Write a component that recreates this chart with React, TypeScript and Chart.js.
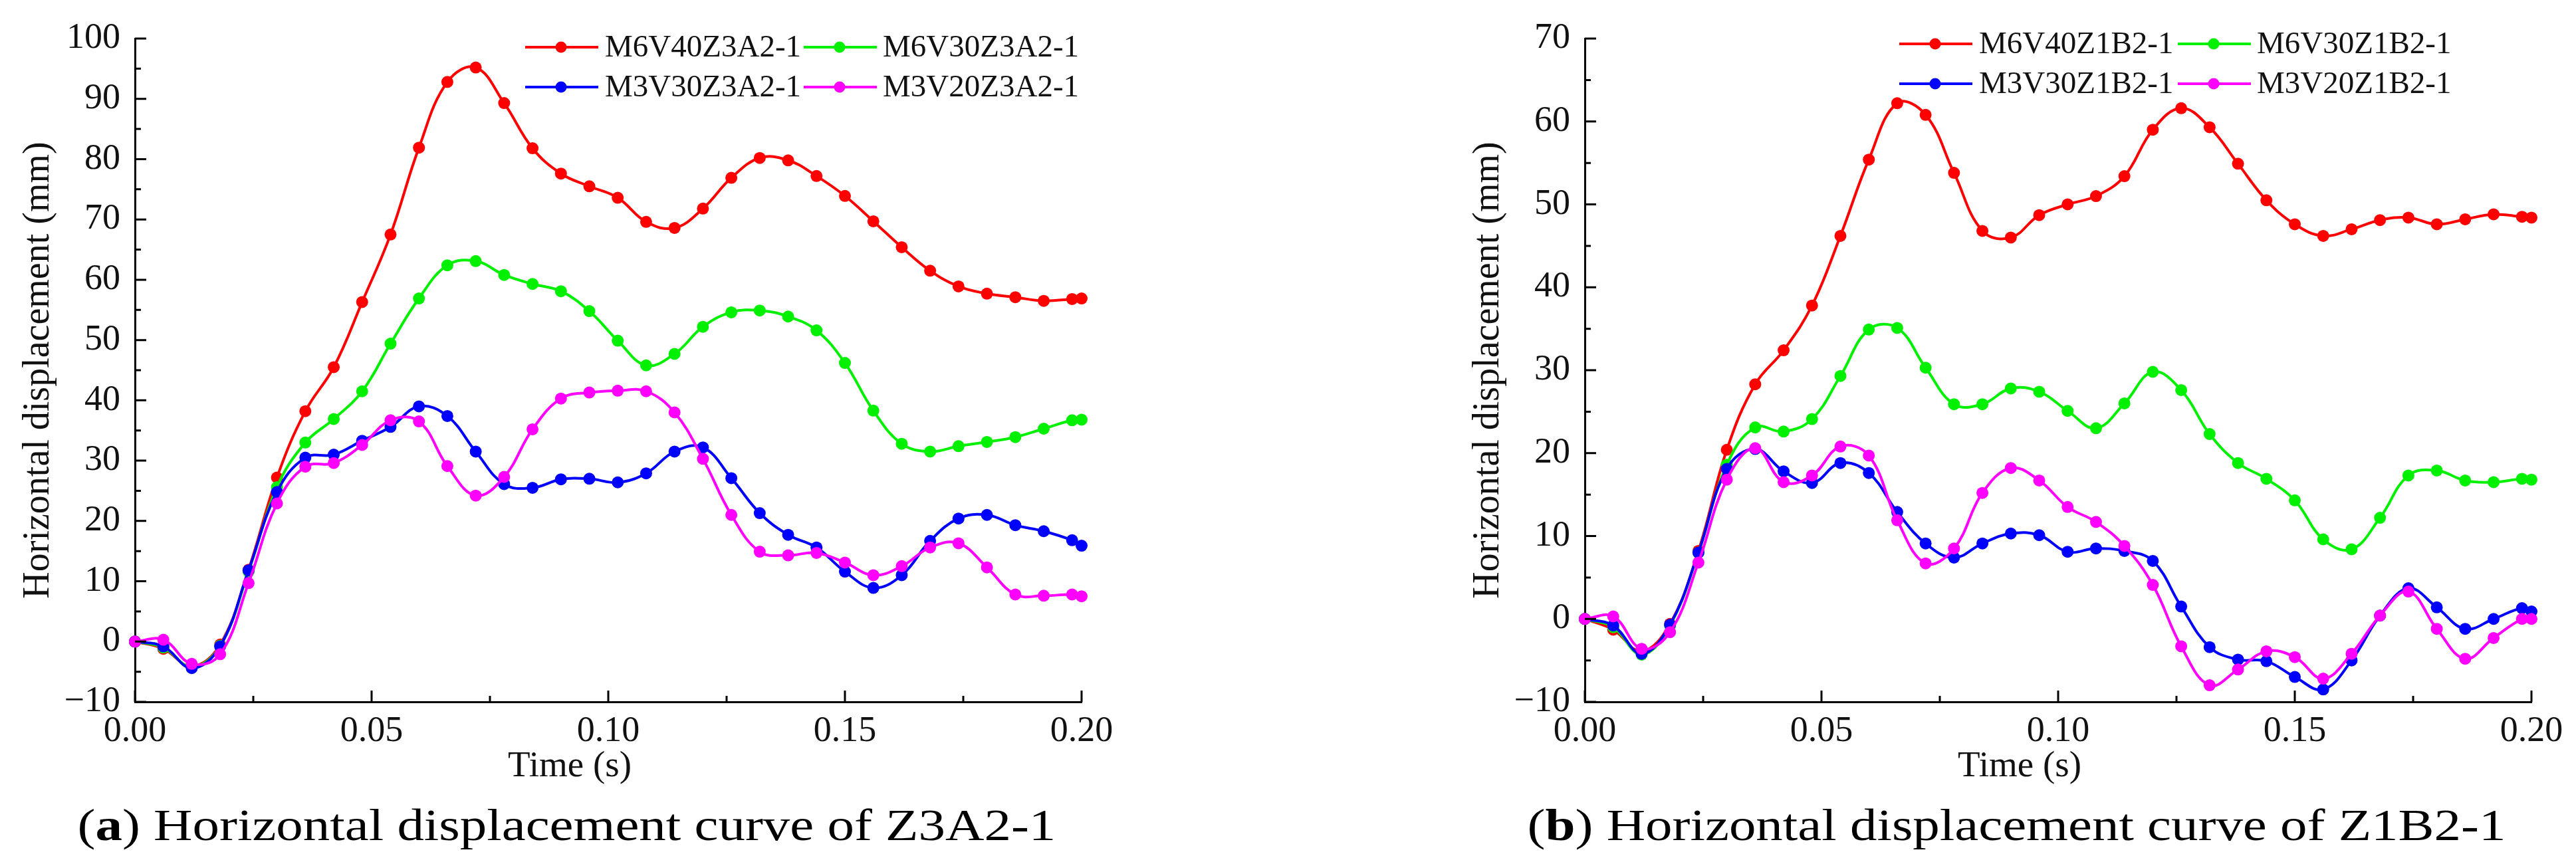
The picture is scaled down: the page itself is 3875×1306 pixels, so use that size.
import { useEffect, useRef } from 'react';
import { Chart, registerables } from 'chart.js';

Chart.register(...registerables);

// time axis (s) – one marker every 6 ms, last point at 0.2 s
const timeSeconds = [
  0, 0.006, 0.012, 0.018, 0.024, 0.03, 0.036, 0.042, 0.048, 0.054, 0.06, 0.066,
  0.072, 0.078, 0.084, 0.09, 0.096, 0.102, 0.108, 0.114, 0.12, 0.126, 0.132,
  0.138, 0.144, 0.15, 0.156, 0.162, 0.168, 0.174, 0.18, 0.186, 0.192, 0.198, 0.2,
];

// (a) Z3A2-1
const z3a2Names = ['M6V40Z3A2-1', 'M6V30Z3A2-1', 'M3V30Z3A2-1', 'M3V20Z3A2-1'];
const z3a2M6V40 = [
  0, -1.2, -4.1, -0.5, 11.9, 27.2, 38.2, 45.5, 56.3, 67.5, 81.9, 92.8, 95.2, 89.3,
  81.8, 77.6, 75.5, 73.6, 69.6, 68.6, 71.8, 76.9, 80.2, 79.8, 77.2, 73.9, 69.7,
  65.4, 61.5, 58.9, 57.7, 57.1, 56.5, 56.8, 56.9,
];
const z3a2M6V30 = [
  0, -1.0, -4.2, -0.7, 11.6, 25.6, 33.0, 36.9, 41.5, 49.4, 56.9, 62.4, 63.1, 60.8,
  59.3, 58.1, 54.8, 49.9, 45.8, 47.7, 52.2, 54.6, 54.9, 53.9, 51.6, 46.2, 38.3,
  32.8, 31.5, 32.4, 33.1, 33.9, 35.3, 36.7, 36.8,
];
const z3a2M3V30 = [
  0, -0.8, -4.4, -0.8, 11.8, 24.8, 30.5, 31.0, 33.3, 35.6, 39.0, 37.4, 31.5, 26.1,
  25.5, 26.9, 27.0, 26.4, 27.9, 31.5, 32.2, 27.1, 21.3, 17.7, 15.6, 11.6, 8.9,
  11.0, 16.7, 20.4, 21.0, 19.3, 18.3, 16.8, 15.9,
];
const z3a2M3V20 = [
  0, 0.3, -3.7, -2.1, 9.7, 22.9, 29.0, 29.6, 32.6, 36.7, 36.5, 29.1, 24.2, 27.3,
  35.2, 40.3, 41.3, 41.6, 41.5, 38.0, 30.3, 21.0, 14.9, 14.3, 14.7, 13.1, 11.0,
  12.5, 15.6, 16.3, 12.3, 7.8, 7.6, 7.8, 7.5,
];

// (b) Z1B2-1
const z1b2Names = ['M6V40Z1B2-1', 'M6V30Z1B2-1', 'M3V30Z1B2-1', 'M3V20Z1B2-1'];
const z1b2M6V40 = [
  0, -1.3, -3.9, -0.6, 8.2, 20.4, 28.3, 32.4, 37.8, 46.2, 55.4, 62.2, 60.8, 53.8,
  46.8, 46.0, 48.7, 50.0, 51.0, 53.4, 59.0, 61.6, 59.3, 54.9, 50.5, 47.6, 46.2,
  47.0, 48.1, 48.4, 47.6, 48.2, 48.8, 48.5, 48.4,
];
const z1b2M6V30 = [
  0, -1.0, -4.3, -0.8, 8.0, 18.6, 23.1, 22.6, 24.1, 29.3, 34.9, 35.1, 30.3, 25.9,
  25.9, 27.8, 27.4, 25.1, 23.0, 26.0, 29.8, 27.6, 22.3, 18.8, 16.9, 14.3, 9.6,
  8.4, 12.2, 17.3, 17.9, 16.7, 16.5, 16.9, 16.8,
];
const z1b2M3V30 = [
  0, -0.8, -4.2, -0.7, 8.0, 18.1, 20.5, 17.8, 16.4, 18.8, 17.6, 12.9, 9.1, 7.4,
  9.1, 10.3, 10.1, 8.1, 8.5, 8.2, 7.0, 1.5, -3.4, -4.9, -5.1, -7.0, -8.5, -5.0,
  0.4, 3.7, 1.4, -1.2, 0.0, 1.3, 0.9,
];
const z1b2M3V20 = [
  0, 0.3, -3.6, -1.6, 6.8, 16.8, 20.6, 16.5, 17.3, 20.8, 19.7, 11.9, 6.7, 8.5,
  15.2, 18.2, 16.7, 13.5, 11.7, 8.8, 4.1, -3.3, -8.0, -6.1, -3.9, -4.6, -7.2,
  -4.2, 0.4, 3.3, -1.2, -4.8, -2.3, 0.0, 0.0,
];

const lineColors = ['#ff0000', '#00f000', '#0000ff', '#ff00ff'];
const serif = '"Liberation Serif", "Times New Roman", serif';

type PanelProps = {
  left: number;
  width: number;
  height: number;
  axisX: number;
  plotRight: number;
  plotTop: number;
  plotBottom: number;
  yMin: number;
  yMax: number;
  names: string[];
  series: number[][];
  legendX: number;
  legendY: number;
  xTitleX: number;
};

function decorPlugin(p: PanelProps) {
  return {
    id: 'decor',
    afterDraw(chart: any) {
      const { ctx, chartArea } = chart;
      const xs = chart.scales.x;
      const ys = chart.scales.y;
      ctx.save();

      // inward ticks
      ctx.strokeStyle = '#000';
      ctx.lineWidth = 3;
      const xv = xs.ticks.map((t: any) => t.value);
      const yv = ys.ticks.map((t: any) => t.value);
      ctx.beginPath();
      xv.forEach((v: number, i: number) => {
        const px = xs.getPixelForValue(v);
        ctx.moveTo(px, chartArea.bottom);
        ctx.lineTo(px, chartArea.bottom - 17);
        if (i < xv.length - 1) {
          const mx = xs.getPixelForValue((v + xv[i + 1]) / 2);
          ctx.moveTo(mx, chartArea.bottom);
          ctx.lineTo(mx, chartArea.bottom - 9);
        }
      });
      yv.forEach((v: number, i: number) => {
        const py = ys.getPixelForValue(v);
        ctx.moveTo(chartArea.left, py);
        ctx.lineTo(chartArea.left + 17, py);
        if (i < yv.length - 1) {
          const my = ys.getPixelForValue((v + yv[i + 1]) / 2);
          ctx.moveTo(chartArea.left, my);
          ctx.lineTo(chartArea.left + 9, my);
        }
      });
      ctx.stroke();

      // axis titles
      ctx.fillStyle = '#111';
      ctx.font = `55px ${serif}`;
      ctx.textAlign = 'center';
      ctx.textBaseline = 'alphabetic';
      ctx.fillText('Time (s)', p.xTitleX, 1168);
      ctx.save();
      ctx.translate(chartArea.left - 130, (chartArea.top + chartArea.bottom) / 2);
      ctx.rotate(-Math.PI / 2);
      ctx.font = `56px ${serif}`;
      ctx.fillText('Horizontal displacement (mm)', 0, 0);
      ctx.restore();

      // legend, two columns
      ctx.font = `47px ${serif}`;
      ctx.textAlign = 'left';
      ctx.textBaseline = 'middle';
      p.names.forEach((name, k) => {
        const x0 = p.legendX + (k % 2) * 419;
        const y0 = p.legendY + Math.floor(k / 2) * 60;
        ctx.strokeStyle = lineColors[k];
        ctx.fillStyle = lineColors[k];
        ctx.lineWidth = 4;
        ctx.beginPath();
        ctx.moveTo(x0, y0);
        ctx.lineTo(x0 + 110, y0);
        ctx.stroke();
        ctx.beginPath();
        ctx.arc(x0 + 54, y0, 8.5, 0, Math.PI * 2);
        ctx.fill();
        ctx.fillStyle = '#111';
        ctx.fillText(name, x0 + 120 - (k % 2) * 1, y0 + 2);
      });
      ctx.restore();
    },
  };
}

function DisplacementPanel(p: PanelProps) {
  const canvasRef = useRef<HTMLCanvasElement>(null);

  useEffect(() => {
    const ctx = canvasRef.current?.getContext('2d');
    if (!ctx) return;

    const chart = new Chart(ctx, {
      type: 'line',
      data: {
        datasets: p.series.map((values, k) => ({
          label: p.names[k],
          data: values.map((y, i) => ({ x: timeSeconds[i], y })),
          borderColor: lineColors[k],
          backgroundColor: lineColors[k],
          pointBackgroundColor: lineColors[k],
          pointBorderColor: lineColors[k],
          pointRadius: 9,
          pointBorderWidth: 0,
          borderWidth: 4,
          tension: 0.4,
          clip: false as any,
          order: 3 - k,
        })),
      },
      options: {
        animation: false,
        responsive: false,
        devicePixelRatio: 1,
        layout: {
          padding: { top: p.plotTop, right: p.width - p.plotRight, bottom: 0, left: 0 },
        },
        plugins: {
          legend: { display: false },
          tooltip: { enabled: false },
        },
        scales: {
          x: {
            type: 'linear',
            min: 0,
            max: 0.2,
            grid: { display: false, drawTicks: false },
            border: { display: true, color: '#000', width: 3 },
            ticks: {
              stepSize: 0.05,
              autoSkip: false,
              maxRotation: 0,
              padding: 12,
              color: '#111',
              font: { family: serif, size: 54 },
              callback: (v) => Number(v).toFixed(2),
            },
            afterFit: (scale) => {
              scale.height = p.height - p.plotBottom;
            },
          },
          y: {
            type: 'linear',
            min: p.yMin,
            max: p.yMax,
            grid: { display: false, drawTicks: false },
            border: { display: true, color: '#000', width: 3 },
            ticks: {
              stepSize: 10,
              autoSkip: false,
              padding: 22,
              color: '#111',
              font: { family: serif, size: 54 },
              callback: (v) => (Number(v) < 0 ? '\u2212' + Math.abs(Number(v)) : String(v)),
            },
            afterFit: (scale) => {
              scale.width = p.axisX;
            },
          },
        },
      },
      plugins: [decorPlugin(p)],
    });

    return () => chart.destroy();
  }, []);

  return (
    <canvas
      ref={canvasRef}
      width={p.width}
      height={p.height}
      style={{ position: 'absolute', left: p.left, top: 0, width: p.width, height: p.height }}
    />
  );
}

function Caption({ letter, text, centerX }: { letter: string; text: string; centerX: number }) {
  return (
    <div
      style={{
        position: 'absolute',
        left: centerX - 1000,
        top: 1207,
        width: 2000,
        textAlign: 'center',
        fontFamily: serif,
        fontSize: 68,
        lineHeight: '68px',
        color: '#000',
        whiteSpace: 'nowrap',
      }}
    >
      <span style={{ display: 'inline-block', transform: 'scaleX(1.19)' }}>
        (<b>{letter}</b>) {text}
      </span>
    </div>
  );
}

export default function App() {
  const common = {
    width: 1694,
    height: 1200,
    axisX: 203,
    plotRight: 1627,
    plotTop: 58,
    plotBottom: 1056,
    yMin: -10,
    xTitleX: 857,
  };
  return (
    <div
      style={{
        position: 'absolute',
        left: 0,
        top: 0,
        width: 3875,
        height: 1306,
        overflow: 'hidden',
        background: '#fff',
      }}
    >
      <DisplacementPanel
        {...common}
        left={0}
        yMax={100}
        names={z3a2Names}
        series={[z3a2M6V40, z3a2M6V30, z3a2M3V30, z3a2M3V20]}
        legendX={790}
        legendY={71}
      />
      <DisplacementPanel
        {...common}
        left={2181}
        yMax={70}
        names={z1b2Names}
        series={[z1b2M6V40, z1b2M6V30, z1b2M3V30, z1b2M3V20]}
        legendX={676}
        legendY={66}
      />
      <Caption letter="a" text="Horizontal displacement curve of Z3A2-1" centerX={852} />
      <Caption letter="b" text="Horizontal displacement curve of Z1B2-1" centerX={3033} />
    </div>
  );
}
